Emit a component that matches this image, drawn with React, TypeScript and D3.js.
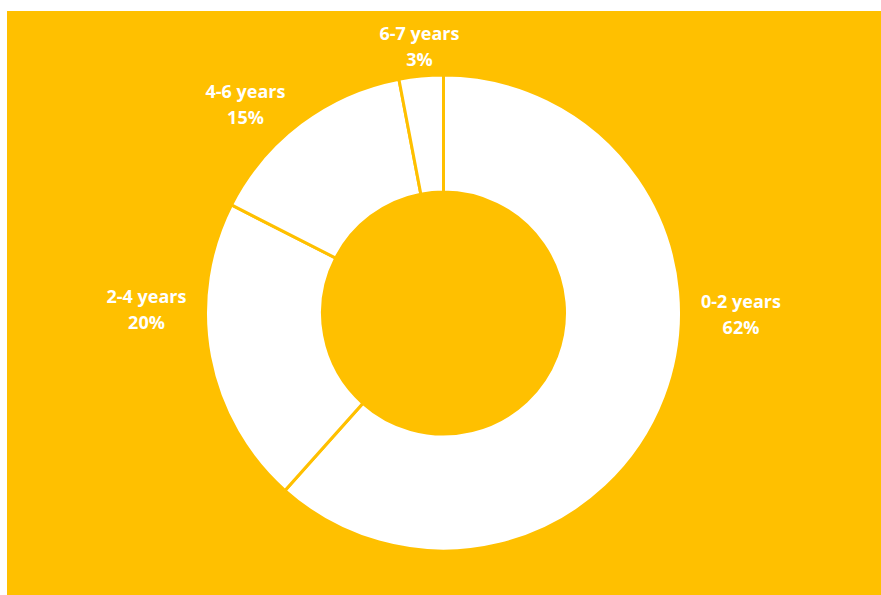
import React from "react";
import * as d3 from "d3";

const categories = ["0-2 years", "2-4 years", "4-6 years", "6-7 years"];
const values = [61.6, 20.9, 14.5, 3.0];
const percentLabels = ["62%", "20%", "15%", "3%"];

// label anchors (center x, first-line baseline) in page px
const labelAnchors: [number, number][] = [
  [741, 308],
  [146.5, 303],
  [245.5, 97.5],
  [419.5, 40],
];

const W = 881;
const H = 595;
const BG = "#FFC000";
const cx = 443.5;
const cy = 313;
const outerR = 238;
const innerR = 121;

export default function App() {
  const pie = d3
    .pie<number>()
    .sort(null)
    .startAngle(0)
    .endAngle(2 * Math.PI)
    .value((d) => d);
  const arcs = pie(values);
  const arc = d3.arc<d3.PieArcDatum<number>>().innerRadius(innerR).outerRadius(outerR);

  return (
    <svg
      width={W}
      height={H}
      style={{ position: "absolute", left: 0, top: 0, background: "#ffffff" }}
    >
      <rect x={7} y={11} width={W - 7} height={H - 11} fill={BG} />
      <g transform={`translate(${cx},${cy})`}>
        {arcs.map((a, i) => (
          <path key={i} d={arc(a) || ""} fill="#ffffff" stroke={BG} strokeWidth={3} strokeLinejoin="miter" />
        ))}
      </g>
      {categories.map((c, i) => (
        <text
          key={c}
          x={labelAnchors[i][0]}
          y={labelAnchors[i][1]}
          textAnchor="middle"
          fill="#ffffff"
          fontFamily="'Open Sans', sans-serif"
          fontWeight="bold"
          fontSize={18}
        >
          <tspan x={labelAnchors[i][0]}>{c}</tspan>
          <tspan x={labelAnchors[i][0]} dy={26}>
            {percentLabels[i]}
          </tspan>
        </text>
      ))}
    </svg>
  );
}
